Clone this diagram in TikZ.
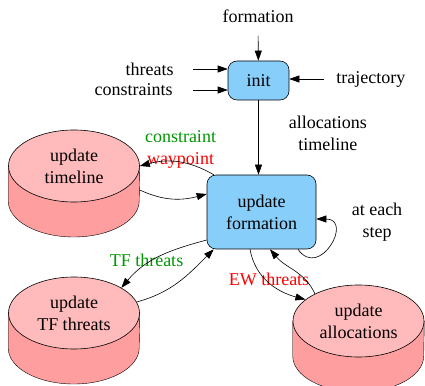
\documentclass[tikz,border=0pt]{standalone}
\usepackage{fontspec}
\setmainfont{Liberation Serif}
\usetikzlibrary{arrows.meta,shapes.geometric,backgrounds}

\definecolor{boxblue}{RGB}{135,206,250}
\definecolor{drumtop}{RGB}{255,187,187}
\definecolor{drumside}{RGB}{255,158,158}
\definecolor{lblgreen}{RGB}{0,150,0}

\tikzset{
	txt/.style={inner sep=0pt, align=center},
	task/.style={draw, fill=boxblue, rounded corners=9pt, align=center},
	drum/.style={draw, ellipse, fill=drumtop, minimum width=131pt, minimum height=72pt, inner sep=0pt, align=center},
	body/.style={draw, fill=drumside, -},
}

\begin{document}
\begin{tikzpicture}[x=1pt, y=1pt, ->, >={Triangle[length=10pt,width=7pt]}, line width=0.6pt, font=\fontsize{18}{22}\selectfont]
	\useasboundingbox (0,0) rectangle (425,385);

	\node [txt] (form) at (258,369) {formation};
	\node [txt, anchor=east] (threats) at (174,316) {threats};
	\node [txt, anchor=east] (cons) at (173,295) {constraints};
	\node [txt, anchor=west] (traj) at (336,306) {trajectory};
	\node [task, minimum width=61pt, minimum height=39pt] (init) at (258.5,304.5) {init};
	\node [task, minimum width=109pt, minimum height=74pt] (upd) at (261.5,173) {update\\formation};
	\node [drum] (tl) at (74,219) {update\\timeline};
	\node [drum] (tf) at (74,72) {update\\TF threats};
	\node [drum] (al) at (358.5,64) {update\\allocations};

	\node [txt] (cw) at (180.5,236) {\textcolor{lblgreen}{constraint}\\\textcolor{red}{waypoint}};
	\node [txt, lblgreen] (tft) at (146.5,125) {TF threats};
	\node [txt, red] (ewt) at (269,105.5) {EW threats};
	\node [txt] (each) at (377,163) {at each\\step};

	\begin{scope}[on background layer]
		\draw [body] (tl.west) -- ++(0,-35) arc [start angle=180, end angle=360, x radius=65.5, y radius=36] -- (tl.east);
		\draw [body] (tf.west) -- ++(0,-35) arc [start angle=180, end angle=360, x radius=65.5, y radius=36] -- (tf.east);
		\draw [body] (al.west) -- ++(0,-35) arc [start angle=180, end angle=360, x radius=65.5, y radius=36] -- (al.east);
	\end{scope}

	\draw [shorten <=13pt] (form) -- (init);
	\draw [shorten <=19pt] (threats) -- (threats -| init.west);
	\draw [shorten <=20pt] (cons) -- (cons -| init.west);
	\draw [shorten <=12pt] (traj) -- (traj -| init.east);
	\draw (init) -- node [txt, right=30pt, pos=0.44] {allocations\\timeline} (init |- upd.north);

	\draw ([xshift=7pt]upd.north west) to [out=150, in=15] (tl.east);
	\draw ([yshift=-24pt]tl.east) to [out=-25, in=195] ([yshift=18pt]upd.west);
	\draw ([yshift=-28pt]upd.west) to [out=195, in=50] (tf.28);
	\draw (tf.10) to [out=15, in=225] ([xshift=7pt]upd.south west);
	\draw ([xshift=-11.5pt]upd.south) to [out=-80, in=165] (al.158);
	\draw (al.148) to [out=115, in=-50] ([xshift=8.5pt]upd.south);
	\draw ([xshift=36.5pt]upd.south) to [out=-55, in=0, looseness=2.7] ([yshift=-7pt]upd.east);
\end{tikzpicture}
\end{document}
